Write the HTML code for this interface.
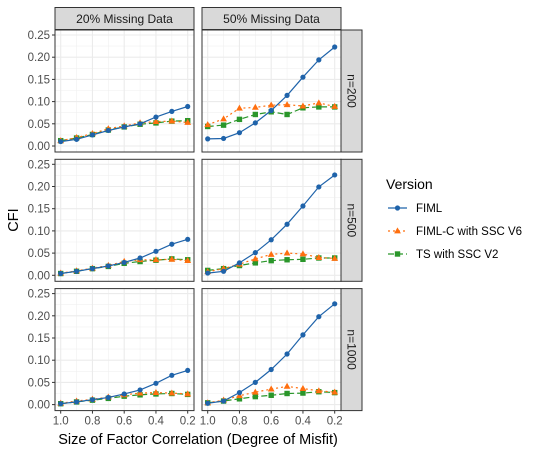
<!DOCTYPE html>
<html><head><meta charset="utf-8"><style>
html,body{margin:0;padding:0;background:#fff;}
svg{display:block;font-family:"Liberation Sans",Arial,sans-serif;}
</style></head><body>
<svg id="chart" width="539" height="452" viewBox="0 0 539 452"></svg>
<script>
const xValues=[1.0,0.9,0.8,0.7,0.6,0.5,0.4,0.3,0.2];
const xTicks=[1.0,0.8,0.6,0.4,0.2];
const xTickLabels=["1.0","0.8","0.6","0.4","0.2"];
const yTicks=[0,0.05,0.10,0.15,0.20,0.25];
const yTickLabels=["0.00","0.05","0.10","0.15","0.20","0.25"];
const colLabels=["20% Missing Data","50% Missing Data"];
const rowLabels=["n=200","n=500","n=1000"];
const seriesNames=["FIML","FIML-C with SSC V6","TS with SSC V2"];
const fiml=[
 [[.010,.015,.025,.035,.043,.050,.065,.078,.089],[.016,.017,.030,.052,.080,.114,.155,.194,.223]],
 [[.004,.009,.015,.021,.029,.039,.054,.070,.081],[.005,.009,.028,.051,.080,.115,.156,.199,.226]],
 [[.002,.006,.011,.016,.024,.033,.048,.066,.077],[.003,.008,.027,.050,.079,.114,.157,.198,.227]]];
const fimlc=[
 [[.012,.019,.028,.039,.045,.052,.055,.056,.053],[.048,.061,.085,.087,.092,.093,.090,.097,.089]],
 [[.005,.010,.016,.022,.031,.035,.035,.036,.033],[.008,.015,.025,.037,.047,.050,.048,.040,.038]],
 [[.003,.008,.012,.017,.022,.026,.027,.026,.024],[.004,.010,.020,.028,.035,.041,.036,.031,.028]]];
const ts=[
 [[.012,.018,.026,.036,.043,.049,.052,.056,.057],[.044,.047,.060,.071,.077,.071,.086,.088,.088]],
 [[.004,.009,.015,.020,.027,.031,.034,.037,.035],[.011,.015,.022,.028,.033,.035,.036,.039,.039]],
 [[.002,.006,.010,.014,.019,.022,.024,.025,.023],[.004,.008,.013,.018,.021,.025,.026,.029,.027]]];
const colors=["#1f63aa","#ff6f0f","#2a962a"];
const dashes=["","2,3","6,3"];
const svg=document.getElementById('chart');
const NS="http://www.w3.org/2000/svg";
function mk(tag,attrs,parent){const e=document.createElementNS(NS,tag);for(const k in attrs)e.setAttribute(k,attrs[k]);(parent||svg).appendChild(e);return e;}
const colX=[55,202], panelW=139;
const rowY=[30,159.3,288.6], panelH=122;
function xs(c,v){const x0=colX[c]+5.7,x1=colX[c]+132.7;return x0+(1.0-v)/0.8*(x1-x0);}
function ys(r,v){const y0=rowY[r]+116,y1=rowY[r]+5;return y0-(v/0.25)*(y0-y1);}
// strips top
for(let c=0;c<2;c++){
 const g=mk('g',{});
 
 
 mk('rect',{x:colX[c],y:7.5,width:panelW,height:22,fill:'#d9d9d9',stroke:'#333','stroke-width':1},g);
 const t=mk('text',{x:colX[c]+panelW/2,y:23,'text-anchor':'middle','font-size':12,fill:'#1a1a1a'},g);t.textContent=colLabels[c];
}
for(let r=0;r<3;r++){
 const g=mk('g',{});
 
 
 mk('rect',{x:341,y:rowY[r],width:21,height:panelH,fill:'#d9d9d9',stroke:'#333','stroke-width':1},g);
 const cx=351.5,cy=rowY[r]+panelH/2;
 const t=mk('text',{x:cx,y:cy,'text-anchor':'middle','dominant-baseline':'central','font-size':12,fill:'#1a1a1a',transform:`rotate(90 ${cx} ${cy})`},g);t.textContent=rowLabels[r];
}
const data=[fiml,fimlc,ts];
for(let r=0;r<3;r++)for(let c=0;c<2;c++){
 const g=mk('g',{});
 
 
 mk('rect',{x:colX[c],y:rowY[r],width:panelW,height:panelH,fill:'#fff'},g);
 // minor grid
 for(let i=0;i<yTicks.length-1;i++){const v=(yTicks[i]+yTicks[i+1])/2;mk('line',{x1:colX[c],x2:colX[c]+panelW,y1:ys(r,v),y2:ys(r,v),stroke:'#f0f0f0','stroke-width':0.6},g);}
 for(let i=0;i<xTicks.length-1;i++){const v=(xTicks[i]+xTicks[i+1])/2;mk('line',{x1:xs(c,v),x2:xs(c,v),y1:rowY[r],y2:rowY[r]+panelH,stroke:'#f0f0f0','stroke-width':0.6},g);}
 yTicks.forEach(v=>mk('line',{x1:colX[c],x2:colX[c]+panelW,y1:ys(r,v),y2:ys(r,v),stroke:'#ebebeb','stroke-width':1.1},g));
 xTicks.forEach(v=>mk('line',{x1:xs(c,v),x2:xs(c,v),y1:rowY[r],y2:rowY[r]+panelH,stroke:'#ebebeb','stroke-width':1.1},g));
 for(let s=2;s>=0;s--){
  const vals=data[s][r][c];
  const pts=vals.map((v,i)=>xs(c,xValues[i]).toFixed(1)+','+ys(r,v).toFixed(1)).join(' ');
  const pl=mk('polyline',{points:pts,fill:'none',stroke:colors[s],'stroke-width':1.2,'stroke-dasharray':dashes[s]},g);
  
  
  vals.forEach((v,i)=>{
   const x=xs(c,xValues[i]),y=ys(r,v);let m;
   if(s===0)m=mk('circle',{cx:x,cy:y,r:2.6,fill:colors[0]},g);
   else if(s===1)m=mk('polygon',{points:`${x},${y-3.6} ${x-3.4},${y+2.4} ${x+3.4},${y+2.4}`,fill:colors[1]},g);
   else m=mk('rect',{x:x-2.7,y:y-2.7,width:5.4,height:5.4,fill:colors[2]},g);
   
   
  });
 }
 mk('rect',{x:colX[c],y:rowY[r],width:panelW,height:panelH,fill:'none',stroke:'#333','stroke-width':1},g);
 if(c===0){yTicks.forEach((v,i)=>{mk('line',{x1:colX[0]-3,x2:colX[0],y1:ys(r,v),y2:ys(r,v),stroke:'#333'},g);
  const t=mk('text',{x:colX[0]-5,y:ys(r,v)+4,'text-anchor':'end','font-size':11.5,fill:'#4d4d4d'},g);t.textContent=yTickLabels[i];});}
 if(r===2){xTicks.forEach((v,i)=>{mk('line',{x1:xs(c,v),x2:xs(c,v),y1:rowY[r]+panelH,y2:rowY[r]+panelH+3,stroke:'#333'},g);
  const t=mk('text',{x:xs(c,v),y:rowY[r]+panelH+14,'text-anchor':'middle','font-size':11.5,fill:'#4d4d4d'},g);t.textContent=xTickLabels[i];});}
}
let t=mk('text',{x:198,y:444,'text-anchor':'middle','font-size':14.5,fill:'#000'});t.textContent="Size of Factor Correlation (Degree of Misfit)";

t=mk('text',{x:18,y:220,'text-anchor':'middle','font-size':14.5,fill:'#000',transform:'rotate(-90 18 220)'});t.textContent="CFI";

const lg=mk('g',{});

t=mk('text',{x:386,y:189,'font-size':14,fill:'#000'},lg);t.textContent="Version";
const ly=[208,231,254];
for(let s=0;s<3;s++){
 const e=mk('g',{},lg);
 
 
 mk('line',{x1:388,x2:407,y1:ly[s],y2:ly[s],stroke:colors[s],'stroke-width':1.2,'stroke-dasharray':dashes[s]},e);
 const x=397.5,y=ly[s];
 if(s===0)mk('circle',{cx:x,cy:y,r:2.6,fill:colors[0]},e);
 else if(s===1)mk('polygon',{points:`${x},${y-3.6} ${x-3.4},${y+2.4} ${x+3.4},${y+2.4}`,fill:colors[1]},e);
 else mk('rect',{x:x-2.7,y:y-2.7,width:5.4,height:5.4,fill:colors[2]},e);
 const tt=mk('text',{x:416,y:y+4,'font-size':11.5,fill:'#000'},e);tt.textContent=seriesNames[s];
}
</script>
</body></html>
